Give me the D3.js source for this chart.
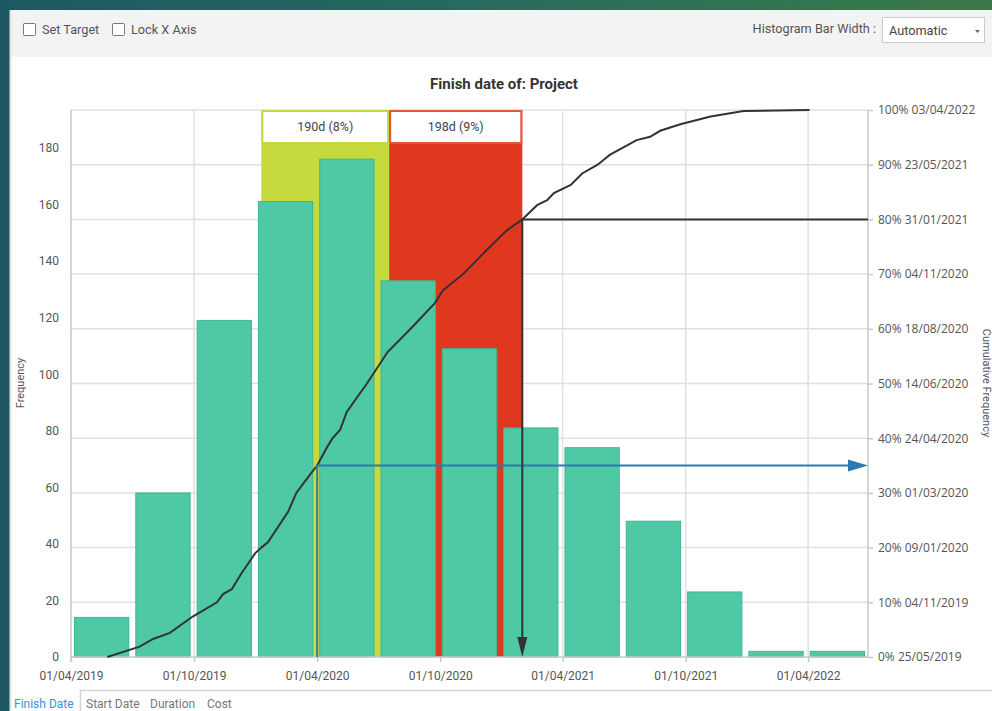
<!DOCTYPE html>
<html lang="en">
<head>
<meta charset="utf-8">
<title>Finish date of: Project</title>
<script src="https://d3js.org/d3.v7.min.js"></script>
<style>
  html, body { margin: 0; padding: 0; }
  body { width: 992px; height: 711px; overflow: hidden;
         background: linear-gradient(90deg, #1d5862 0%, #27695f 45%, #3a7a48 100%);
         font-family: Roboto, "Noto Sans", sans-serif; }
  svg { display: block; }
</style>
</head>
<body>
<svg width="992" height="711"></svg>
<script>

// histogram counts, one per bin (13 equal bins across the x domain)
var counts = [14, 58, 119, 161, 176, 133, 109, 81, 74, 48, 23, 2, 2];

// cumulative frequency curve
var cumDates = ["2019-05-25","2019-07-12","2019-08-01","2019-08-26","2019-09-29","2019-11-04",
  "2019-11-13","2019-11-26","2019-12-11","2019-12-31","2020-01-09","2020-01-19","2020-02-18",
  "2020-03-01","2020-03-21","2020-04-01","2020-04-15","2020-04-24","2020-05-05","2020-05-15",
  "2020-06-14","2020-07-15","2020-08-18","2020-09-23","2020-10-05","2020-11-04","2020-12-09",
  "2021-01-08","2021-01-31","2021-02-22","2021-03-09","2021-03-19","2021-04-13","2021-04-30",
  "2021-05-23","2021-06-10","2021-07-20","2021-08-09","2021-08-24","2021-09-23","2021-11-07",
  "2021-12-26","2022-04-03"];
var cumPct = [0, 1.9, 3.3, 4.4, 7.4, 10, 11.5, 12.4, 15.4, 19, 20, 21, 26.6,
  30, 33.3, 35, 38.2, 40, 41.5, 44.8, 50, 55.8, 60, 64.7, 67, 70, 74.4,
  78, 80, 82.6, 83.5, 84.8, 86.3, 88.4, 90, 91.8, 94.5, 95.1, 96.2, 97.4, 98.8,
  99.8, 100];

// axes
var freqTicks = [0, 20, 40, 60, 80, 100, 120, 140, 160, 180];
var pctTicks = [0, 10, 20, 30, 40, 50, 60, 70, 80, 90, 100];
var pctDates = ["25/05/2019","04/11/2019","09/01/2020","01/03/2020","24/04/2020","14/06/2020",
  "18/08/2020","04/11/2020","31/01/2021","23/05/2021","03/04/2022"];
var dateTicks = ["2019-04-01","2019-10-01","2020-04-01","2020-10-01","2021-04-01","2021-10-01","2022-04-01"];
var xDomain = ["2019-04-01", "2022-06-29"];

// highlighted ranges
var bandStart = ["2020-01-09", "2020-07-17"];
var bandEnd = ["2020-07-17", "2021-01-31"];
var bandLabels = ["190d (8%)", "198d (9%)"];

// target (blue) and percentile (black) markers
var targetDate = "2020-04-01", targetPct = 35;
var pickPct = 80, pickDate = "2021-01-31";

var parse = d3.utcParse("%Y-%m-%d");
var fmt = d3.utcFormat("%d/%m/%Y");

var svg = d3.select("svg");
var pL = 71, pR = 868, pT = 110, pB = 657;

// panel
svg.append("rect").attr("x", 10).attr("y", 10).attr("width", 982).attr("height", 701).attr("fill", "#fff");
svg.append("rect").attr("x", 10).attr("y", 10).attr("width", 982).attr("height", 47).attr("fill", "#f3f3f3");
svg.append("line").attr("x1", 10.5).attr("x2", 10.5).attr("y1", 10).attr("y2", 711)
    .attr("stroke", "#e4e4e4").attr("stroke-width", 2);

// toolbar
var checks = [{x: 23, t: "Set Target"}, {x: 112, t: "Lock X Axis"}];
checks.forEach(function(c) {
  svg.append("rect").attr("x", c.x + 0.5).attr("y", 23.5).attr("width", 12).attr("height", 12)
      .attr("fill", "#fff").attr("stroke", "#777").attr("rx", 1);
  svg.append("text").attr("x", c.x + 19).attr("y", 34).attr("font-size", 12.7).attr("fill", "#555").text(c.t);
});
svg.append("text").attr("x", 876).attr("y", 33).attr("text-anchor", "end")
    .attr("font-size", 12.7).attr("fill", "#555").text("Histogram Bar Width :");
svg.append("rect").attr("x", 882.5).attr("y", 17.5).attr("width", 102).attr("height", 25)
    .attr("fill", "#fff").attr("stroke", "#ccc");
svg.append("text").attr("x", 889).attr("y", 35).attr("font-size", 12.7).attr("fill", "#444").text("Automatic");
svg.append("path").attr("d", "M975,30 l5,0 l-2.5,3 z").attr("fill", "#666");

// title
svg.append("text").attr("x", 504).attr("y", 89).attr("text-anchor", "middle")
    .attr("font-size", 15).attr("font-weight", "bold").attr("fill", "#333").text("Finish date of: Project");

var x = d3.scaleUtc().domain(xDomain.map(parse)).range([pL, pR]);
var yF = d3.scaleLinear().domain([0, 193.4]).range([pB, pT]);
var yP = d3.scaleLinear().domain([0, 100]).range([pB, pT]);

// grid
var grid = svg.append("g").attr("stroke", "#e0e0e0").attr("stroke-width", 1.5);
grid.selectAll(".hg").data(pctTicks.slice(1)).enter().append("line")
    .attr("x1", pL).attr("x2", pR).attr("y1", function(d) { return yP(d); }).attr("y2", function(d) { return yP(d); });
grid.selectAll(".vg").data(dateTicks.slice(1)).enter().append("line")
    .attr("x1", function(d) { return x(parse(d)); }).attr("x2", function(d) { return x(parse(d)); })
    .attr("y1", pT).attr("y2", pB);

// bands
var bands = d3.range(bandStart.length);
var bandFill = ["#c6da3d", "#e0381f"];
var bandStroke = ["#c6da3d", "#e8553f"];
svg.selectAll(".band").data(bands).enter().append("rect")
    .attr("x", function(i) { return x(parse(bandStart[i])); })
    .attr("width", function(i) { return x(parse(bandEnd[i])) - x(parse(bandStart[i])); })
    .attr("y", pT).attr("height", pB - pT)
    .attr("fill", function(i) { return bandFill[i]; });

// bars
var t0 = x.domain()[0].getTime(), t1 = x.domain()[1].getTime();
var step = (t1 - t0) / counts.length;
svg.selectAll(".bar").data(counts).enter().append("rect")
    .attr("x", function(d, i) { return x(new Date(t0 + i * step)) + 3.5; })
    .attr("width", function(d, i) { return x(new Date(t0 + (i + 1) * step)) - x(new Date(t0 + i * step)) - 7; })
    .attr("y", function(d) { return yF(d); })
    .attr("height", function(d) { return pB - yF(d); })
    .attr("fill", "#4fc8a5").attr("stroke", "#3fb592").attr("stroke-width", 1);

// band label boxes
svg.selectAll(".bbox").data(bands).enter().append("rect")
    .attr("x", function(i) { return x(parse(bandStart[i])) + 1; })
    .attr("width", function(i) { return x(parse(bandEnd[i])) - x(parse(bandStart[i])) - 2; })
    .attr("y", pT + 1).attr("height", 32)
    .attr("fill", "#fff").attr("stroke", function(i) { return bandStroke[i]; }).attr("stroke-width", 2);
svg.selectAll(".blab").data(bands).enter().append("text")
    .attr("x", function(i) { return (x(parse(bandStart[i])) + x(parse(bandEnd[i]))) / 2; })
    .attr("y", pT + 21).attr("text-anchor", "middle")
    .attr("font-size", 12.5).attr("fill", "#444").text(function(i) { return bandLabels[i]; });

// axes lines
svg.append("line").attr("x1", pL).attr("x2", pL).attr("y1", pT).attr("y2", pB + 5)
    .attr("stroke", "#c8c8c8").attr("stroke-width", 1.5);
svg.append("line").attr("x1", pR).attr("x2", pR).attr("y1", pT).attr("y2", pB)
    .attr("stroke", "#c8c8c8").attr("stroke-width", 1.5);
svg.append("line").attr("x1", pL).attr("x2", pR).attr("y1", pB).attr("y2", pB)
    .attr("stroke", "#c8c8c8").attr("stroke-width", 1.5);

var leftAxis = d3.axisLeft(yF).tickValues(freqTicks).tickSize(0).tickPadding(12);
svg.append("g").attr("transform", "translate(" + pL + ",0)").call(leftAxis)
    .call(function(g) { g.select(".domain").remove(); })
    .selectAll("text").attr("font-size", 12).attr("fill", "#555").attr("font-family", "Roboto");

var bottomAxis = d3.axisBottom(x).tickValues(dateTicks.map(parse)).tickFormat(fmt).tickSize(5).tickPadding(9);
var bg = svg.append("g").attr("transform", "translate(0," + pB + ")").call(bottomAxis);
bg.select(".domain").remove();
bg.selectAll("line").attr("stroke", "#c8c8c8").attr("stroke-width", 1.5);
bg.selectAll("text").attr("font-size", 12).attr("fill", "#555").attr("font-family", "Roboto");

var rightAxis = d3.axisRight(yP).tickValues(pctTicks).tickSize(5).tickPadding(5)
    .tickFormat(function(d, i) { return d + "% " + pctDates[i]; });
var rg = svg.append("g").attr("transform", "translate(" + pR + ",0)").call(rightAxis);
rg.select(".domain").remove();
rg.selectAll("line").attr("stroke", "#c8c8c8").attr("stroke-width", 1.5);
rg.selectAll("text").attr("font-size", 12).attr("fill", "#555").attr("font-family", "'Open Sans'");

svg.append("text").attr("transform", "translate(24,383) rotate(-90)").attr("text-anchor", "middle")
    .attr("font-size", 11).attr("fill", "#555").text("Frequency");
svg.append("text").attr("transform", "translate(983,383) rotate(90)").attr("text-anchor", "middle")
    .attr("font-size", 11).attr("fill", "#555").text("Cumulative Frequency");

// cumulative curve
var line = d3.line()
    .x(function(d, i) { return x(parse(cumDates[i])); })
    .y(function(d) { return yP(d); });
svg.append("path").datum(cumPct).attr("d", line)
    .attr("fill", "none").attr("stroke", "#333").attr("stroke-width", 2);

// target marker (blue)
var tx = x(parse(targetDate)), ty = yP(targetPct);
svg.append("path").attr("d", "M" + tx + "," + pB + "V" + ty + "H" + (pR - 16))
    .attr("fill", "none").attr("stroke", "#2c7bb0").attr("stroke-width", 2);
svg.append("path").attr("d", "M" + (pR - 20) + "," + (ty - 6) + "L" + pR + "," + ty + "L" + (pR - 20) + "," + (ty + 6) + "Z")
    .attr("fill", "#2c7bb0");

// percentile marker (black)
var px = x(parse(pickDate)), py = yP(pickPct);
svg.append("path").attr("d", "M" + pR + "," + py + "H" + px + "V" + (pB - 16))
    .attr("fill", "none").attr("stroke", "#333").attr("stroke-width", 2);
svg.append("path").attr("d", "M" + (px - 5) + "," + (pB - 20) + "L" + px + "," + pB + "L" + (px + 5) + "," + (pB - 20) + "Z")
    .attr("fill", "#333");

// tabs
svg.append("path").attr("d", "M80.5,711V690.5H992").attr("fill", "none").attr("stroke", "#d4d4d4").attr("stroke-width", 1.5);
var tabs = [{x: 14, t: "Finish Date", c: "#3d8fe0"}, {x: 86, t: "Start Date", c: "#777"},
            {x: 150, t: "Duration", c: "#777"}, {x: 207, t: "Cost", c: "#777"}];
tabs.forEach(function(t) {
  svg.append("text").attr("x", t.x).attr("y", 708).attr("font-size", 12).attr("fill", t.c).text(t.t);
});
</script>
</body>
</html>
